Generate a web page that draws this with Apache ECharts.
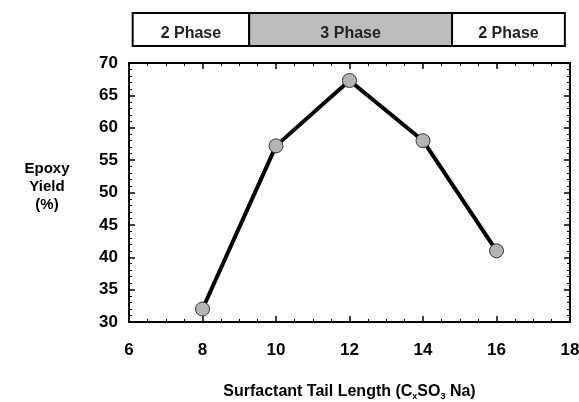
<!DOCTYPE html>
<html>
<head>
<meta charset="utf-8">
<script src="https://cdn.jsdelivr.net/npm/echarts@6/dist/echarts.min.js"></script>
<style>
  html, body { margin: 0; padding: 0; background: #fff; }
  #chart { width: 579px; height: 402px; }
</style>
</head>
<body>
<div id="chart"></div>
<script>
  // tail length vs epoxy yield
  const tailLength = [8, 10, 12, 14, 16];
  const epoxyYield = [32, 57.2, 67.3, 58, 41];

  // phase regions along the x axis
  const phaseStart = [6.1, 9.27, 14.79];
  const phaseEnd = [9.27, 14.79, 17.86];
  const phaseLabel = ['2 Phase', '3 Phase', '2 Phase'];
  const phaseFill = ['#ffffff', '#bdbdbd', '#ffffff'];

  const font = 'Liberation Sans, Arial, sans-serif';
  let myChart = echarts.init(document.getElementById('chart'));

  const tickStyle = {show: true, inside: true, length: 6, lineStyle: {color: '#000', width: 1.5}};
  const minorStyle = {show: true, length: 3, lineStyle: {color: '#000', width: 1}};

  myChart.setOption({
    animation: false,
    grid: [
      {left: 129, right: 9, top: 63, bottom: 80, outerBoundsMode: 'none'},   // main plot
      {left: 129, right: 9, top: 13, height: 33, outerBoundsMode: 'none'}    // phase bar
    ],
    xAxis: [
      {
        type: 'value', gridIndex: 0, min: 6, max: 18, interval: 2,
        axisLine: {show: true, lineStyle: {color: '#000', width: 2}},
        axisTick: tickStyle,
        minorTick: Object.assign({splitNumber: 4}, minorStyle),
        splitLine: {show: false},
        axisLabel: {color: '#000', fontSize: 17, fontWeight: 'bold', fontFamily: font, margin: 20},
        name: '{n|Surfactant Tail Length (C}{s|x}{n|SO}{s|3}{n| Na)}',
        nameLocation: 'middle', nameGap: 60,
        nameTextStyle: {
          rich: {
            n: {fontSize: 16, fontWeight: 'bold', fontFamily: font, color: '#000'},
            s: {fontSize: 9, fontWeight: 'bold', fontFamily: font, color: '#000', verticalAlign: 'bottom', padding: [10, 0, 0, 0]}
          }
        }
      },
      {
        type: 'value', gridIndex: 0, position: 'top', min: 6, max: 18, interval: 2,
        axisLine: {show: true, lineStyle: {color: '#000', width: 2}},
        axisTick: tickStyle,
        minorTick: Object.assign({splitNumber: 4}, minorStyle),
        splitLine: {show: false},
        axisLabel: {show: false}
      },
      {
        type: 'value', gridIndex: 1, min: 6, max: 18, show: false
      }
    ],
    yAxis: [
      {
        type: 'value', gridIndex: 0, min: 30, max: 70, interval: 5,
        axisLine: {show: true, lineStyle: {color: '#000', width: 2}},
        axisTick: tickStyle,
        minorTick: Object.assign({splitNumber: 5}, minorStyle),
        splitLine: {show: false},
        axisLabel: {color: '#000', fontSize: 17, fontWeight: 'bold', fontFamily: font, margin: 11, padding: [5, 0, 0, 0]}
      },
      {
        type: 'value', gridIndex: 0, position: 'right', min: 30, max: 70, interval: 5,
        axisLine: {show: true, lineStyle: {color: '#000', width: 2}},
        axisTick: tickStyle,
        minorTick: Object.assign({splitNumber: 5}, minorStyle),
        splitLine: {show: false},
        axisLabel: {show: false}
      },
      {
        type: 'value', gridIndex: 1, min: 0, max: 1, show: false
      }
    ],
    graphic: [
      {
        type: 'text', x: 47, y: 187,
        style: {
          text: 'Epoxy\nYield\n(%)', align: 'center', verticalAlign: 'middle', fill: '#000',
          font: 'bold 15px Liberation Sans, Arial, sans-serif', lineHeight: 18
        }
      }
    ],
    series: [
      {
        type: 'line',
        xAxisIndex: 0, yAxisIndex: 0,
        data: tailLength.map((t, i) => [t, epoxyYield[i]]),
        lineStyle: {color: '#000', width: 4},
        symbol: 'circle', symbolSize: 14,
        itemStyle: {color: '#b4b4b4', borderColor: '#333', borderWidth: 1},
        z: 3
      },
      {
        type: 'custom',
        xAxisIndex: 2, yAxisIndex: 2,
        data: phaseStart.map((s, i) => [s, phaseEnd[i], i]),
        renderItem: function (params, api) {
          const i = api.value(2);
          const p0 = api.coord([api.value(0), 1]);
          const p1 = api.coord([api.value(1), 0]);
          return {
            type: 'group',
            children: [
              {
                type: 'rect',
                shape: {x: p0[0], y: p0[1], width: p1[0] - p0[0], height: p1[1] - p0[1]},
                style: {fill: phaseFill[i], stroke: '#000', lineWidth: 2}
              },
              {
                type: 'text',
                style: {
                  text: phaseLabel[i], x: (p0[0] + p1[0]) / 2, y: (p0[1] + p1[1]) / 2 + 4,
                  align: 'center', verticalAlign: 'middle', fill: '#222',
                  font: 'bold 16px Liberation Sans, Arial, sans-serif'
                }
              }
            ]
          };
        }
      }
    ]
  });
</script>
</body>
</html>
